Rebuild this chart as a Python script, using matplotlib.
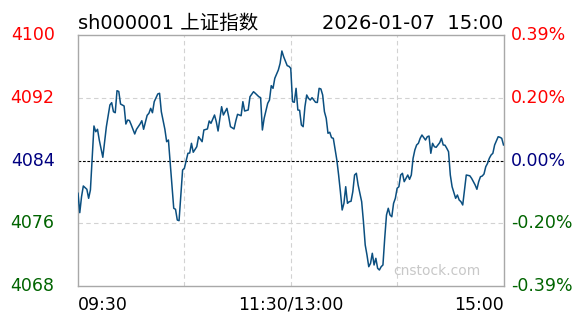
"""上证指数 分时图 (sh000001, 2026-01-07)."""
import matplotlib
matplotlib.use("Agg")
import matplotlib.pyplot as plt

# minutes after 09:30 (lunch break removed, 240 = 15:00)
minutes = [
    0, 1, 2, 3, 5, 6, 7, 9, 10, 11, 12, 14, 16, 18, 19, 20, 21, 22, 23, 24,
    26, 27, 28, 29, 30, 32, 33, 35, 36, 37, 39, 40, 41, 42, 43, 45, 46, 47, 49, 50,
    51, 52, 54, 55, 56, 57, 59, 60, 62, 63, 64, 65, 67, 68, 70, 71, 73, 74, 75, 77,
    78, 79, 81, 82, 84, 85, 86, 88, 89, 90, 92, 93, 94, 96, 97, 99, 100, 102, 103, 104,
    105, 107, 108, 109, 110, 111, 113, 114, 115, 116, 118, 119, 120, 121, 122, 123, 124, 125, 126, 127,
    128, 129, 130, 131, 132, 134, 135, 136, 137, 138, 139, 140, 141, 142, 143, 144, 146, 147, 148, 149,
    150, 151, 152, 153, 154, 155, 156, 157, 158, 160, 161, 162, 163, 164, 165, 166, 167, 168, 169, 170,
    171, 172, 173, 174, 175, 176, 177, 178, 179, 180, 181, 182, 183, 184, 186, 187, 188, 189, 190, 191,
    192, 193, 194, 196, 197, 198, 199, 200, 201, 202, 204, 205, 206, 207, 208, 209, 210, 211, 213, 214,
    215, 216, 217, 218, 219, 221, 222, 224, 225, 226, 227, 228, 229, 230, 231, 232, 233, 234, 235, 237,
    238, 239, 240,
]
prices = [
    4079.82, 4077.35, 4079.39, 4080.75, 4080.33, 4079.18, 4080.24, 4088.40, 4087.67, 4087.98,
    4086.61, 4084.41, 4088.31, 4091.08, 4091.37, 4090.22, 4090.09, 4092.90, 4092.80, 4091.20,
    4090.95, 4088.65, 4089.16, 4089.10, 4088.56, 4087.38, 4087.98, 4088.65, 4089.07, 4087.98,
    4089.76, 4090.02, 4090.65, 4090.09, 4091.50, 4092.48, 4092.57, 4090.22, 4087.98, 4086.40,
    4086.61, 4083.72, 4077.91, 4077.78, 4076.41, 4076.33, 4082.79, 4083.01, 4084.92, 4084.95,
    4086.19, 4085.05, 4085.76, 4087.03, 4086.40, 4087.89, 4088.02, 4089.04, 4088.74, 4089.80,
    4088.95, 4087.76, 4090.86, 4089.80, 4090.65, 4089.58, 4088.31, 4088.02, 4089.04, 4089.89,
    4089.71, 4091.50, 4090.31, 4090.44, 4092.13, 4092.77, 4092.57, 4092.13, 4092.01, 4087.89,
    4089.38, 4091.29, 4091.71, 4093.54, 4093.20, 4094.48, 4095.54, 4096.39, 4097.96, 4097.23,
    4096.09, 4096.00, 4095.75, 4091.50, 4091.42, 4093.20, 4090.44, 4090.40, 4088.53, 4088.31,
    4090.86, 4092.35, 4091.93, 4091.71, 4092.01, 4091.42, 4091.40, 4093.20, 4093.12, 4092.35,
    4090.22, 4089.38, 4087.47, 4087.60, 4086.91, 4086.83, 4084.06, 4082.15, 4080.02, 4077.69,
    4078.54, 4080.66, 4078.54, 4078.75, 4078.80, 4080.02, 4082.15, 4082.37, 4080.88, 4078.75,
    4076.20, 4073.23, 4071.95, 4070.46, 4070.89, 4072.17, 4070.68, 4071.53, 4070.26, 4070.04,
    4070.46, 4070.68, 4074.08, 4077.05, 4077.91, 4077.05, 4076.83, 4078.54, 4079.18, 4080.46,
    4080.66, 4082.15, 4082.37, 4081.30, 4082.15, 4081.60, 4082.15, 4084.28, 4085.34, 4085.98,
    4086.19, 4086.83, 4087.25, 4086.61, 4087.03, 4087.12, 4084.92, 4086.19, 4085.76, 4085.68,
    4086.27, 4086.83, 4085.98, 4085.95, 4085.56, 4085.12, 4082.15, 4080.66, 4079.18, 4079.60,
    4078.96, 4078.75, 4078.33, 4080.24, 4082.15, 4082.05, 4081.73, 4080.88, 4080.33, 4081.30,
    4081.93, 4082.02, 4082.28, 4083.21, 4083.64, 4084.28, 4084.70, 4084.92, 4085.98, 4087.03,
    4086.96, 4086.83, 4085.98,
]

prev_close = 4084.0
left_ticks = [4100, 4092, 4084, 4076, 4068]
right_labels = ["0.39%", "0.20%", "0.00%", "-0.20%", "-0.39%"]
tick_colors = ["#ff0000", "#ff0000", "#000080", "#006400", "#006400"]
time_labels = ["09:30", "11:30/13:00", "15:00"]
time_pos = [0, 120, 240]
title_left = "sh000001 上证指数"
title_right = "2026-01-07  15:00"

plt.rcParams["font.family"] = ["DejaVu Sans", "Noto Sans CJK SC"]

fig = plt.figure(figsize=(5.88, 3.24), dpi=100)
ax = fig.add_axes([78 / 588, 38 / 324, 425.5 / 588, 251 / 324])

ax.plot(minutes, prices, color="#0b4f80", lw=1.1, zorder=3)
ax.axhline(prev_close, color="black", lw=0.8, ls=(0, (2.5, 1.5)), zorder=2)
for v in (4092, 4076):
    ax.axhline(v, color="#d2d2d2", lw=0.8, ls=(0, (4, 3)), zorder=1)
for t in (60, 120, 180):
    ax.axvline(t, color="#d2d2d2", lw=0.8, ls=(0, (4, 3)), zorder=1)

ax.set_xlim(0, 240)
ax.set_ylim(4068, 4100)
ax.set_xticks([]); ax.set_yticks([])
for s in ax.spines.values():
    s.set_color("#a8a8a8")
    s.set_linewidth(1.0)

for v, lab, c in zip(left_ticks, right_labels, tick_colors):
    ax.text(-0.055, (v - 4068) / 32, str(v), transform=ax.transAxes,
            ha="right", va="center", fontsize=12.5, color=c)
    ax.text(1.017, (v - 4068) / 32, lab, transform=ax.transAxes,
            ha="left", va="center", fontsize=12.5, color=c)

aligns = ["left", "center", "right"]
for t, lab, ha in zip(time_pos, time_labels, aligns):
    ax.text(t, -0.075, lab, transform=ax.get_xaxis_transform(),
            ha=ha, va="center", fontsize=12.5, color="black")

ax.text(0, 1.024, title_left, transform=ax.transAxes, ha="left", va="baseline",
        fontsize=14, color="black")
ax.text(1.0, 1.024, title_right, transform=ax.transAxes, ha="right", va="baseline",
        fontsize=14, color="black")
ax.text(0.947, 0.06, "cnstock.com", transform=ax.transAxes, ha="right", va="center",
        fontsize=10, color="#c8c8c8", zorder=4)

fig.savefig("out.png", dpi=100, facecolor="white")
